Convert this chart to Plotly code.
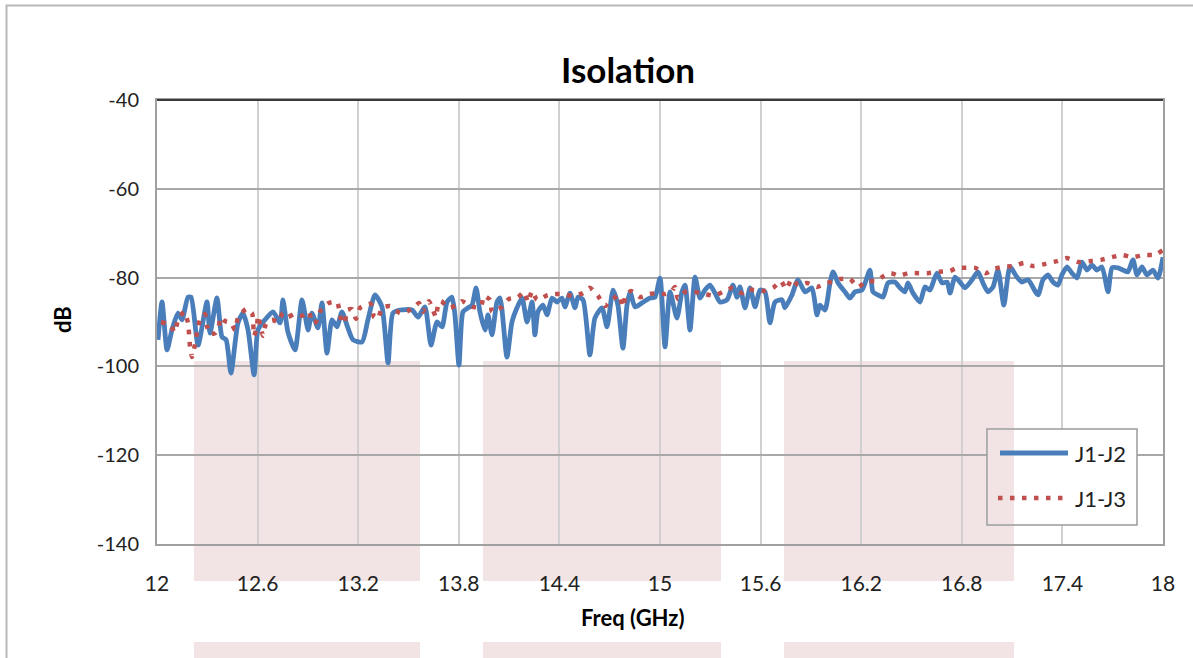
import plotly.graph_objects as go

# ---------------- data ----------------
freq_j12 = [12.006, 12.030, 12.060, 12.089, 12.125, 12.149, 12.185, 12.203, 12.245, 12.298,
            12.316, 12.358, 12.388, 12.412, 12.441, 12.483, 12.513, 12.543, 12.579, 12.602,
            12.644, 12.692, 12.734, 12.751, 12.781, 12.823, 12.865, 12.901, 12.924, 12.960,
            12.984, 13.014, 13.044, 13.074, 13.103, 13.133, 13.169, 13.223, 13.258, 13.300,
            13.342, 13.378, 13.407, 13.449, 13.521, 13.557, 13.598, 13.634, 13.670, 13.700,
            13.730, 13.759, 13.777, 13.801, 13.825, 13.855, 13.879, 13.903, 13.926, 13.956,
            13.974, 13.998, 14.028, 14.046, 14.087, 14.117, 14.147, 14.177, 14.207, 14.237,
            14.254, 14.272, 14.302, 14.326, 14.356, 14.386, 14.415, 14.433, 14.463, 14.493,
            14.511, 14.541, 14.582, 14.612, 14.654, 14.684, 14.720, 14.749, 14.779, 14.803,
            14.821, 14.851, 14.893, 14.940, 14.970, 15.000, 15.030, 15.060, 15.101, 15.131,
            15.149, 15.179, 15.209, 15.239, 15.268, 15.298, 15.328, 15.358, 15.400, 15.435,
            15.459, 15.477, 15.507, 15.537, 15.567, 15.596, 15.626, 15.656, 15.686, 15.728,
            15.745, 15.787, 15.823, 15.865, 15.906, 15.936, 15.954, 15.984, 16.014, 16.032,
            16.062, 16.103, 16.133, 16.163, 16.205, 16.252, 16.270, 16.300, 16.330, 16.360,
            16.401, 16.431, 16.461, 16.479, 16.509, 16.551, 16.580, 16.610, 16.628, 16.652,
            16.682, 16.712, 16.730, 16.759, 16.789, 16.819, 16.861, 16.896, 16.926, 16.956,
            16.986, 17.016, 17.051, 17.087, 17.129, 17.159, 17.195, 17.254, 17.284, 17.314,
            17.344, 17.374, 17.397, 17.427, 17.457, 17.487, 17.517, 17.547, 17.576, 17.606,
            17.636, 17.672, 17.696, 17.731, 17.761, 17.791, 17.821, 17.845, 17.875, 17.904,
            17.940, 17.970, 18.000]
db_j12 = [-94.0, -85.5, -96.3, -91.8, -88.0, -89.5, -84.4, -84.4, -95.2, -85.5,
          -92.5, -84.6, -93.4, -94.0, -101.5, -90.2, -88.0, -91.8, -101.9, -91.8,
          -89.5, -87.7, -90.2, -85.0, -92.3, -96.3, -85.0, -91.8, -88.0, -91.3,
          -85.7, -97.0, -89.5, -91.1, -87.7, -90.7, -94.0, -94.5, -89.5, -83.9,
          -86.6, -99.2, -88.0, -87.3, -87.3, -88.9, -86.6, -95.2, -90.0, -91.1,
          -85.5, -84.4, -88.4, -99.7, -87.7, -86.8, -86.2, -82.3, -87.7, -91.8,
          -88.4, -92.9, -85.5, -84.6, -97.9, -90.0, -86.8, -84.6, -90.0, -85.5,
          -92.9, -87.7, -86.2, -88.4, -84.6, -85.5, -84.6, -86.6, -83.5, -86.8,
          -84.4, -85.0, -97.4, -89.1, -86.8, -91.1, -82.8, -86.2, -95.9, -86.2,
          -83.2, -86.6, -85.7, -84.6, -84.4, -80.1, -95.6, -83.2, -89.1, -83.2,
          -81.7, -91.8, -79.9, -84.6, -82.8, -81.7, -83.5, -85.5, -85.0, -81.7,
          -84.4, -82.1, -86.8, -82.3, -86.6, -82.8, -83.2, -90.2, -85.5, -85.0,
          -86.8, -83.9, -80.5, -83.2, -82.3, -88.4, -86.2, -87.3, -81.2, -78.7,
          -81.2, -83.2, -84.6, -83.2, -82.8, -78.3, -83.2, -83.9, -84.4, -81.2,
          -81.0, -82.3, -83.2, -81.2, -83.5, -85.5, -82.1, -82.8, -81.2, -79.0,
          -81.2, -81.0, -83.5, -79.9, -81.0, -82.3, -80.5, -78.7, -81.2, -83.2,
          -82.1, -78.3, -86.2, -77.6, -79.9, -81.0, -80.5, -83.9, -80.5, -79.4,
          -81.0, -81.7, -79.4, -77.6, -79.0, -80.1, -76.5, -78.3, -77.2, -78.3,
          -77.6, -83.2, -77.8, -77.8, -78.3, -78.7, -76.0, -79.4, -77.6, -79.4,
          -78.3, -80.1, -75.4]

freq_j13 = [12.024, 12.078, 12.107, 12.125, 12.161, 12.185, 12.197, 12.209, 12.227, 12.239,
            12.256, 12.286, 12.298, 12.316, 12.346, 12.364, 12.382, 12.406, 12.441, 12.465,
            12.483, 12.531, 12.567, 12.579, 12.596, 12.602, 12.620, 12.632, 12.650, 12.686,
            12.722, 12.751, 12.781, 12.817, 12.865, 12.907, 12.924, 12.948, 12.978, 13.026,
            13.074, 13.091, 13.103, 13.121, 13.133, 13.163, 13.187, 13.211, 13.276, 13.294,
            13.318, 13.342, 13.390, 13.449, 13.497, 13.539, 13.563, 13.586, 13.622, 13.646,
            13.664, 13.676, 13.694, 13.741, 13.789, 13.819, 13.879, 13.932, 13.950, 13.986,
            13.998, 14.022, 14.058, 14.099, 14.153, 14.189, 14.213, 14.237, 14.266, 14.320,
            14.362, 14.415, 14.481, 14.541, 14.582, 14.630, 14.672, 14.720, 14.756, 14.779,
            14.797, 14.827, 14.881, 14.940, 14.982, 15.030, 15.066, 15.089, 15.107, 15.149,
            15.203, 15.268, 15.322, 15.376, 15.435, 15.489, 15.519, 15.561, 15.620, 15.674,
            15.722, 15.751, 15.787, 15.823, 15.877, 15.936, 15.996, 16.044, 16.073, 16.133,
            16.181, 16.235, 16.294, 16.324, 16.378, 16.425, 16.479, 16.545, 16.598, 16.664,
            16.730, 16.771, 16.813, 16.879, 16.944, 16.986, 17.045, 17.111, 17.171, 17.224,
            17.302, 17.368, 17.427, 17.493, 17.564, 17.630, 17.696, 17.755, 17.821, 17.887,
            17.952, 18.000]
db_j13 = [-90.0, -90.7, -92.3, -89.5, -87.7, -90.2, -95.6, -97.9, -95.0, -92.3,
          -89.5, -88.2, -90.9, -92.7, -92.5, -91.6, -88.9, -89.8, -90.2, -91.8,
          -89.1, -87.1, -88.0, -93.1, -91.1, -88.6, -91.3, -93.1, -90.4, -89.5,
          -90.0, -88.0, -88.9, -88.2, -88.6, -87.7, -90.2, -90.0, -87.3, -85.7,
          -85.5, -88.0, -90.2, -90.0, -87.3, -87.1, -89.3, -86.8, -85.9, -88.9,
          -89.3, -86.8, -86.4, -88.0, -87.5, -86.4, -85.7, -87.7, -85.3, -87.3,
          -88.9, -86.2, -85.3, -86.8, -86.2, -85.3, -86.6, -86.6, -84.1, -85.0,
          -87.7, -87.3, -86.6, -84.8, -84.4, -83.2, -85.5, -83.0, -85.0, -84.1,
          -83.7, -83.7, -84.1, -83.5, -82.3, -84.1, -86.4, -84.8, -83.9, -86.6,
          -83.9, -83.0, -84.4, -83.7, -83.5, -83.7, -83.2, -82.1, -84.8, -83.2,
          -83.2, -83.7, -84.1, -83.2, -82.3, -83.5, -82.6, -82.8, -83.0, -82.3,
          -80.8, -82.6, -80.3, -81.7, -81.2, -82.1, -81.2, -80.8, -80.3, -80.3,
          -82.1, -80.8, -80.8, -79.9, -79.0, -79.6, -79.0, -79.0, -79.0, -78.7,
          -78.5, -77.8, -77.8, -77.8, -79.0, -78.1, -77.6, -77.4, -76.7, -77.4,
          -76.9, -76.3, -75.6, -76.5, -76.3, -76.0, -75.4, -74.9, -75.4, -74.9,
          -74.9, -73.8]

x_ticks = [12, 12.6, 13.2, 13.8, 14.4, 15, 15.6, 16.2, 16.8, 17.4, 18]
x_tick_labels = ["12", "12.6", "13.2", "13.8", "14.4", "15", "15.6", "16.2", "16.8", "17.4", "18"]
y_ticks = [-140, -120, -100, -80, -60, -40]
y_tick_labels = ["-140", "-120", "-100", "-80", "-60", "-40"]
series_names = ["J1-J2", "J1-J3"]

# ---------------- styling / layout ----------------
W, H = 1193, 658
L, R, T, B = 157, 30, 100, 114
PW, PH = W - L - R, H - T - B
FONT = "Lato, 'Open Sans', sans-serif"
BLUE = "#4A7EBB"
RED = "#C0504D"


def px(xp):
    return (xp - L) / PW


def py(yp):
    return (H - B - yp) / PH


fig = go.Figure()
fig.add_trace(go.Scatter(x=freq_j12, y=db_j12, mode="lines", name=series_names[0],
                         line=dict(color=BLUE, width=4.8, shape="spline", smoothing=0.6),
                         showlegend=False))
fig.add_trace(go.Scatter(x=freq_j13, y=db_j13, mode="lines", name=series_names[1],
                         line=dict(color=RED, width=4.5, dash="4.5px,7.5px",
                                   shape="spline", smoothing=0.5),
                         showlegend=False))

shapes = []
PINK = "#f2e4e4"
# watermark-like pink blocks behind the plot
for (x0, x1) in [(194, 420), (483, 721), (784, 1014)]:
    shapes.append(dict(type="rect", xref="paper", yref="paper", layer="below",
                       x0=px(x0), x1=px(x1), y0=py(581), y1=py(361),
                       fillcolor=PINK, line=dict(width=0)))
    shapes.append(dict(type="rect", xref="paper", yref="paper", layer="below",
                       x0=px(x0), x1=px(x1), y0=py(700), y1=py(642),
                       fillcolor=PINK, line=dict(width=0)))
# outer chart frame
shapes.append(dict(type="rect", xref="paper", yref="paper", layer="above",
                   x0=px(6.5), x1=px(1200), y0=py(700), y1=py(5.5),
                   line=dict(color="#b8b8b8", width=2), fillcolor="rgba(0,0,0,0)"))
# dark top border of plot area
shapes.append(dict(type="line", xref="paper", yref="paper", layer="above",
                   x0=0, x1=1, y0=1, y1=1, line=dict(color="#3a3a3a", width=2)))
# legend box
shapes.append(dict(type="rect", xref="paper", yref="paper", layer="above",
                   x0=px(987), x1=px(1137), y0=py(525), y1=py(429),
                   fillcolor="white", line=dict(color="#9a9a9a", width=1.5)))
shapes.append(dict(type="rect", xref="paper", yref="paper", layer="above",
                   x0=px(988), x1=px(1014), y0=py(524), y1=py(430),
                   fillcolor=PINK, line=dict(width=0)))
shapes.append(dict(type="line", xref="paper", yref="paper", layer="above",
                   x0=px(1000), x1=px(1068), y0=py(453), y1=py(453),
                   line=dict(color=BLUE, width=4.8)))
shapes.append(dict(type="line", xref="paper", yref="paper", layer="above",
                   x0=px(998), x1=px(1068), y0=py(498), y1=py(498),
                   line=dict(color=RED, width=4.5, dash="4.5px,7.5px")))

annotations = [
    dict(text="<b>Isolation</b>", xref="paper", yref="paper", x=px(628), y=py(69),
         showarrow=False, font=dict(size=35, color="#000000", family=FONT),
         xanchor="center", yanchor="middle"),
    dict(text="<b>Freq (GHz)</b>", xref="paper", yref="paper", x=px(632), y=py(617),
         showarrow=False, font=dict(size=22, color="#000000", family=FONT),
         xanchor="center", yanchor="middle"),
    dict(text="<b>dB</b>", xref="paper", yref="paper", x=px(62), y=py(320),
         showarrow=False, textangle=-90, font=dict(size=22, color="#000000", family=FONT),
         xanchor="center", yanchor="middle"),
    dict(text=series_names[0], xref="paper", yref="paper", x=px(1073), y=py(453),
         showarrow=False, font=dict(size=22, color="#222222", family=FONT),
         xanchor="left", yanchor="middle"),
    dict(text=series_names[1], xref="paper", yref="paper", x=px(1073), y=py(498),
         showarrow=False, font=dict(size=22, color="#222222", family=FONT),
         xanchor="left", yanchor="middle"),
]

fig.update_layout(
    width=W, height=H,
    margin=dict(l=L, r=R, t=T, b=B, pad=0),
    paper_bgcolor="white", plot_bgcolor="white",
    font=dict(family=FONT, size=21, color="#222222"),
    showlegend=False,
    shapes=shapes,
    annotations=annotations,
)
fig.update_xaxes(range=[12, 18], tickvals=x_ticks, ticktext=x_tick_labels,
                 showgrid=True, gridcolor="#d0d0d0", gridwidth=1.5,
                 showline=True, linecolor="#a0a0a0", linewidth=2, mirror=True,
                 zeroline=False, ticks="", ticklabelstandoff=20,
                 tickfont=dict(size=21, color="#222222", family=FONT))
fig.update_yaxes(range=[-140, -40], tickvals=y_ticks, ticktext=y_tick_labels,
                 showgrid=True, gridcolor="#a8a8a8", gridwidth=1.5,
                 showline=True, linecolor="#a0a0a0", linewidth=2, mirror=True,
                 zeroline=False, ticks="", ticklabelstandoff=12,
                 tickfont=dict(size=20, color="#222222", family=FONT))

fig.write_html("out.html", config={"displayModeBar": False},
               post_script="document.body.style.margin='0';document.body.style.overflow='hidden';")
